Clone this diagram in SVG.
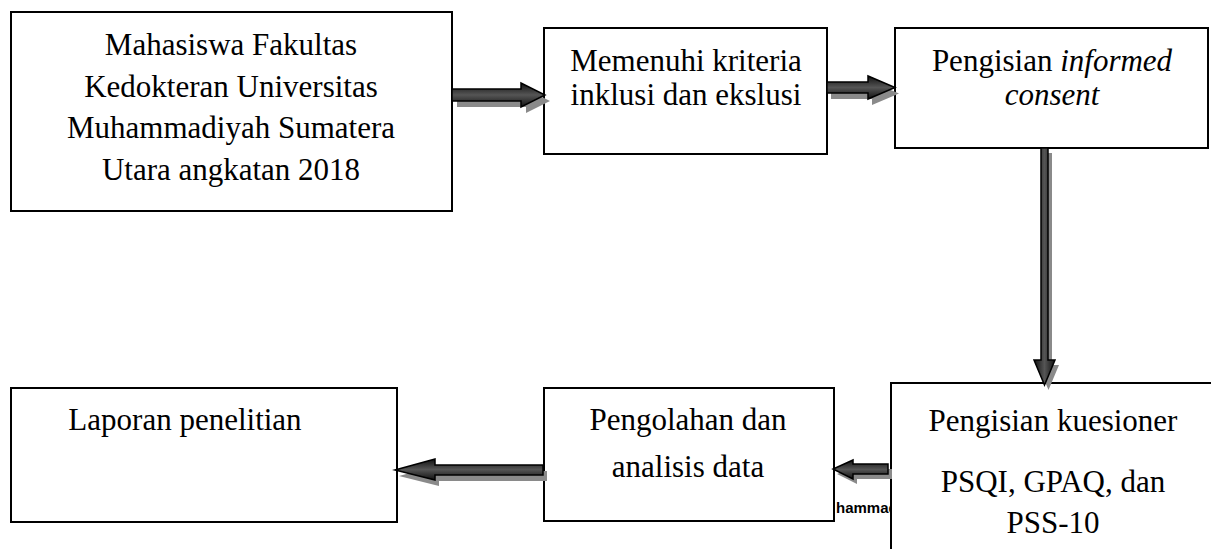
<svg xmlns="http://www.w3.org/2000/svg" width="1211" height="549" viewBox="0 0 1211 549">
<defs>
<linearGradient id="gh" x1="0" y1="0" x2="0" y2="1">
<stop offset="0" stop-color="#111"/><stop offset="0.5" stop-color="#555"/><stop offset="1" stop-color="#111"/>
</linearGradient>
<linearGradient id="gv" x1="0" y1="0" x2="1" y2="0">
<stop offset="0" stop-color="#111"/><stop offset="0.5" stop-color="#555"/><stop offset="1" stop-color="#111"/>
</linearGradient>
</defs>
<style>
.box{fill:#fff;stroke:#000;stroke-width:2}
.t{font-family:"Liberation Serif","Times New Roman",serif;font-size:31px;fill:#000;text-anchor:middle}
.it{font-style:italic}
.sh{fill:#8a8a8a;stroke:none}
.ah{fill:url(#gh);stroke:#000;stroke-width:1.5;stroke-linejoin:miter}
.av{fill:url(#gv);stroke:#000;stroke-width:1.5;stroke-linejoin:miter}
.stray{font-family:"Liberation Sans",Arial,sans-serif;font-weight:bold;font-size:15px;fill:#000}
</style>
<g id="stray-text"><text class="stray" x="836" y="513">hammad</text></g>
<g id="n1"><rect class="box" x="11" y="12" width="441" height="199"/>
<text class="t" x="231" y="55">Mahasiswa Fakultas</text>
<text class="t" x="231" y="97">Kedokteran Universitas</text>
<text class="t" x="231" y="138">Muhammadiyah Sumatera</text>
<text class="t" x="231" y="180">Utara angkatan 2018</text></g>
<g id="n2"><rect class="box" x="544" y="28" width="283" height="126"/>
<text class="t" x="686" y="71">Memenuhi kriteria</text>
<text class="t" x="686" y="105">inklusi dan ekslusi</text></g>
<g id="n3"><rect class="box" x="895" y="28" width="313" height="120"/>
<text class="t" x="1052" y="71">Pengisian <tspan class="it">informed</tspan></text>
<text class="t it" x="1052" y="105">consent</text></g>
<g id="n4"><rect class="box" x="891" y="383" width="325" height="170"/>
<text class="t" x="1053" y="431">Pengisian kuesioner</text>
<text class="t" x="1053" y="492">PSQI, GPAQ, dan</text>
<text class="t" x="1053" y="533">PSS-10</text></g>
<g id="n5"><rect class="box" x="544" y="388" width="290" height="133"/>
<text class="t" x="688" y="430">Pengolahan dan</text>
<text class="t" x="688" y="477">analisis data</text></g>
<g id="n6"><rect class="box" x="11" y="388" width="386" height="134"/>
<text class="t" x="185" y="430">Laporan penelitian</text></g>
<g id="connectors">
<polygon class="sh" points="457,95 526,95 526,89 550,101 526,113 526,107 457,107"/>
<polygon class="ah" points="452,89 521,89 521,83 545,95 521,107 521,101 452,101"/>
<polygon class="sh" points="831,88 872,88 872,82 899,93.5 872,105 872,99 831,99"/>
<polygon class="ah" points="827,82 868,82 868,76 895,87.5 868,99 868,93 827,93"/>
<polygon class="sh" points="1045,153 1052,153 1052,365 1059,365 1048.5,390 1038,365 1045,365"/>
<polygon class="av" points="1041,148 1048,148 1048,360 1055,360 1044.5,385 1034,360 1041,360"/>
<polygon class="sh" points="892,469 857,469 857,465 837,474 857,484 857,479 892,479"/>
<polygon class="ah" points="888,464 853,464 853,460 833,469 853,479 853,474 888,474"/>
<polygon class="sh" points="547,471 439,471 439,465 399,476 439,486 439,481 547,481"/>
<polygon class="ah" points="543,465 435,465 435,459 395,470 435,480 435,475 543,475"/>
</g>
</svg>
